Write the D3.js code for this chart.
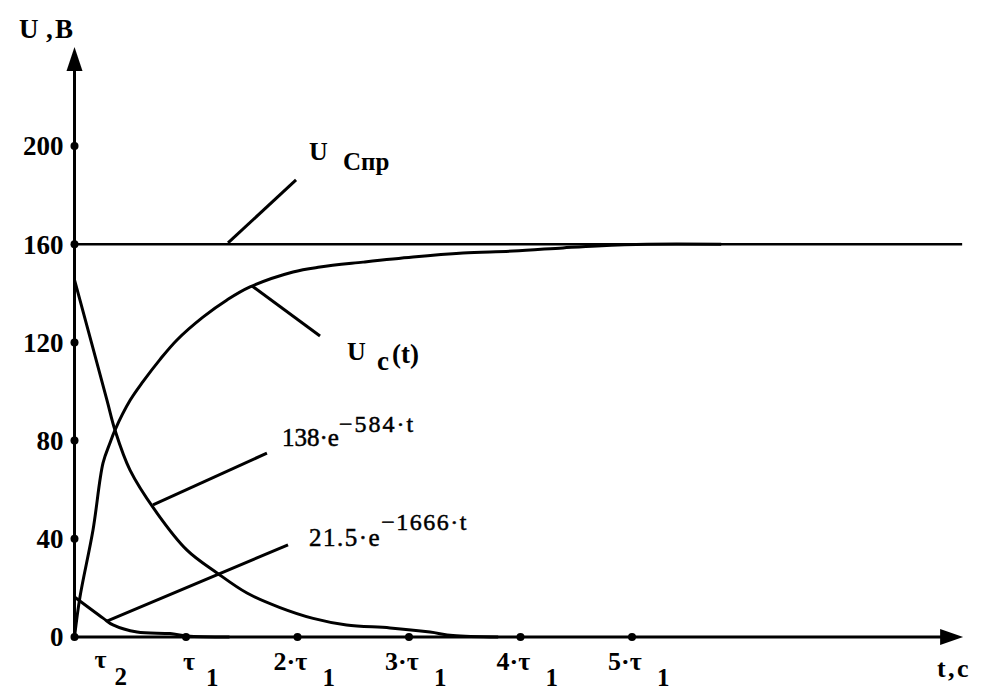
<!DOCTYPE html>
<html><head><meta charset="utf-8">
<script src="https://cdn.jsdelivr.net/npm/d3@7"></script>
<style>body{margin:0;background:#fff}svg{display:block}
svg text{font-family:"Liberation Serif","DejaVu Serif","Times New Roman",serif !important;}</style>
</head><body>
<svg id="c" width="1003" height="698"></svg>
<script>
// ---- data (time in units of tau1, voltage in V) ----
const yTicks = [0, 40, 80, 120, 160, 200];
const xTickMult = [1, 2, 3, 4, 5];
const tau2Ratio = 0.35;           // tau2 / tau1
const steadyValue = 160;          // U Cпр
const ucT = [0, 0.049, 0.166, 0.256, 0.318, 0.363, 0.50, 0.614, 0.766, 0.919, 1.152, 1.368, 1.574, 1.960, 2.202, 2.587, 3.036, 3.484, 3.933, 4.381, 4.686, 5.135, 5.8];
const ucV = [0, 16.3, 43.6, 70.9, 79.0, 84.3, 96.5, 104.0, 113.0, 121.0, 130.3, 137.3, 142.6, 148.7, 150.7, 152.7, 154.8, 156.4, 157.2, 158.5, 159.3, 160, 160];
const e1T = [0, 0.291, 0.363, 0.498, 0.740, 1.009, 1.278, 1.547, 1.843, 2.14, 2.44, 2.83, 3.188, 3.395, 3.8];
const e1V = [145.5, 96.5, 84.3, 68.0, 50.5, 35.4, 26.1, 17.9, 12.0, 7.6, 4.9, 3.7, 2.0, 0.6, 0];
const e2T = [0, 0.256, 0.345, 0.561, 0.857, 1.009, 1.39];
const e2V = [16.3, 7.7, 4.9, 2.0, 1.4, 0.4, 0];
// leader lines [t0, v0, t1, v1]
const leaderSpr = [1.377, 160.5, 1.987, 186.2];
const leaderUc  = [1.592, 143.0, 2.202, 122.6];
const leaderE1  = [0.704, 53.8, 1.726, 74.9];
const leaderE2  = [0.291, 6.5, 1.915, 37.5];
const xAxisEnd = 7.97, yAxisEnd = 240.3;

// ---- scales ----
const x = d3.scaleLinear().domain([0, 1]).range([74.5, 186]);
const y = d3.scaleLinear().domain([0, 200]).range([637, 146]);

const svg = d3.select('#c');
const g = svg.append('g').attr('fill', '#000');

// steady-state line
g.append('line').attr('x1', x(0)).attr('x2', x(xAxisEnd) - 1)
  .attr('y1', y(steadyValue)).attr('y2', y(steadyValue))
  .attr('stroke', '#000').attr('stroke-width', 2.6);

// curves
const line = d3.line().x(d => x(d[0])).y(d => y(d[1])).curve(d3.curveCatmullRom.alpha(0.5));
[[ucT, ucV], [e1T, e1V], [e2T, e2V]].forEach(([ts, vs]) => {
  g.append('path').datum(ts.map((t, i) => [t, vs[i]])).attr('d', line)
    .attr('fill', 'none').attr('stroke', '#000').attr('stroke-width', 3)
    .attr('stroke-linejoin', 'round');
});

// leader lines
[leaderSpr, leaderUc, leaderE1, leaderE2].forEach(l => {
  g.append('line').attr('x1', x(l[0])).attr('y1', y(l[1])).attr('x2', x(l[2])).attr('y2', y(l[3]))
    .attr('stroke', '#000').attr('stroke-width', 3);
});

// axes lines + arrows
g.append('line').attr('x1', x(0)).attr('x2', x(0)).attr('y1', y(0)).attr('y2', y(yAxisEnd) + 10)
  .attr('stroke', '#000').attr('stroke-width', 3);
g.append('line').attr('x1', x(0)).attr('x2', x(xAxisEnd) - 10).attr('y1', y(0)).attr('y2', y(0))
  .attr('stroke', '#000').attr('stroke-width', 3);
const ax = x(0), ay = y(yAxisEnd);
g.append('path').attr('d', `M${ax},${ay} L${ax - 8},${ay + 24} L${ax + 8},${ay + 24} Z`);
const bx = x(xAxisEnd), by = y(0);
g.append('path').attr('d', `M${bx},${by} L${bx - 23},${by - 8} L${bx - 23},${by + 8} Z`);

// bold serif text helper
const fb = (s, size, weight) => s.attr('font-size', size).attr('fill', '#000')
  .attr('font-weight', weight || 'bold');

// y ticks via d3 axis
const yAxis = d3.axisLeft(y).tickValues(yTicks).tickSize(0).tickPadding(11).tickFormat(d3.format('d'));
const ya = svg.append('g').attr('transform', `translate(${x(0)},0)`).call(yAxis);
ya.select('.domain').remove();
ya.attr('font-family', null).attr('font-size', null);
ya.selectAll('text').call(s => fb(s, 27)).attr('dy', '0.33em');
// tick dots
g.selectAll('.yd').data(yTicks).join('circle').attr('cx', x(0)).attr('cy', d => y(d)).attr('r', 4);
g.selectAll('.xd').data(xTickMult).join('circle').attr('cx', d => x(d)).attr('cy', y(0)).attr('r', 4);

// x tick labels
xTickMult.forEach(k => {
  const label = k === 1 ? 'τ' : k + '·τ';
  const off = k === 1 ? -3 : -24;
  g.append('text').attr('x', x(k) + off).attr('y', 670).text(label).call(s => fb(s, 26));
  g.append('text').attr('x', x(k) + (k === 1 ? 20 : 25)).attr('y', 686).text('1').call(s => fb(s, 25));
});
g.append('text').attr('x', x(tau2Ratio) - 19).attr('y', 668).text('τ').call(s => fb(s, 26));
g.append('text').attr('x', x(tau2Ratio) + 1).attr('y', 685).text('2').call(s => fb(s, 25));

// axis titles
g.append('text').attr('x', 19).attr('y', 38).text('U').call(s => fb(s, 27));
g.append('text').attr('x', 46).attr('y', 38).text(',').call(s => fb(s, 27));
g.append('text').attr('x', 55).attr('y', 38).text('B').call(s => fb(s, 27));
g.append('text').attr('x', 937).attr('y', 677).text('t').call(s => fb(s, 26));
g.append('text').attr('x', 948).attr('y', 677).text(',').call(s => fb(s, 26));
g.append('text').attr('x', 957).attr('y', 677).text('c').call(s => fb(s, 26));

// curve labels
g.append('text').attr('x', 309).attr('y', 160).text('U').call(s => fb(s, 26));
g.append('text').attr('x', 343).attr('y', 170).text('Спр').call(s => fb(s, 25));
g.append('text').attr('x', 347).attr('y', 360).text('U').call(s => fb(s, 26));
g.append('text').attr('x', 377).attr('y', 370).text('c').call(s => fb(s, 27));
g.append('text').attr('x', 392).attr('y', 363).text('(t)').call(s => fb(s, 27));

const t1 = g.append('text').attr('x', 282).attr('y', 446).call(s => fb(s, 25, 'normal'))
  .attr('stroke', '#000').attr('stroke-width', 0.5);
t1.append('tspan').text('138·e');
t1.append('tspan').attr('y', 432).attr('font-size', 24).attr('letter-spacing', 2).text('−584·t');
const t2 = g.append('text').attr('x', 309).attr('y', 546).call(s => fb(s, 25, 'normal'))
  .attr('stroke', '#000').attr('stroke-width', 0.5).attr('letter-spacing', 1.5);
t2.append('tspan').text('21.5·e');
t2.append('tspan').attr('y', 530).attr('font-size', 24).text('−1666·t');
</script>
</body></html>
